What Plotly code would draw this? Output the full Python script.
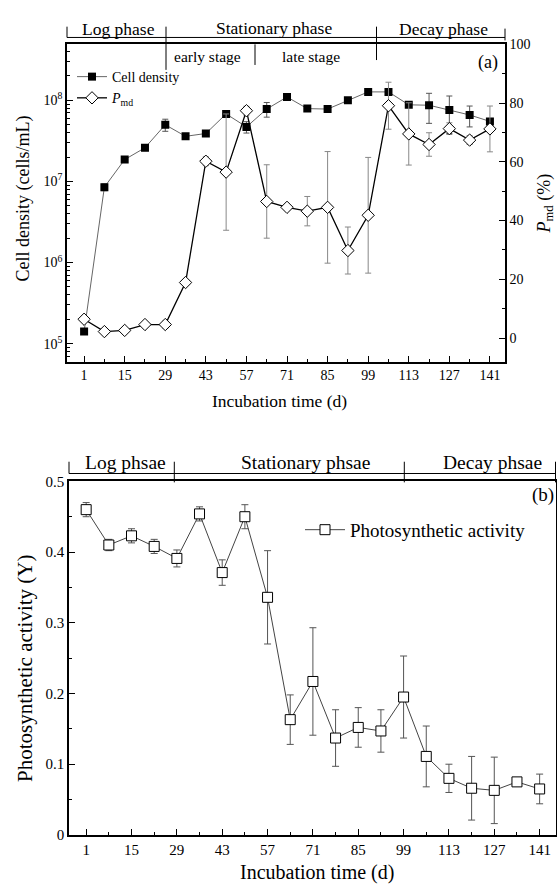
import plotly.graph_objects as go

# ---------------- data ----------------
days = [1, 8, 15, 22, 29, 36, 43, 50, 57, 64, 71, 78, 85, 92, 99, 106, 113, 120, 127, 134, 141]

cell_density = [1.41e5, 8.5e6, 1.86e7, 2.6e7, 5.0e7, 3.6e7, 3.9e7, 6.8e7, 4.7e7, 7.8e7, 1.1e8,
                7.9e7, 7.8e7, 1.0e8, 1.27e8, 1.27e8, 8.8e7, 8.7e7, 7.6e7, 6.6e7, 5.5e7]
cell_err = [0.1e5, 0.8e6, 1.5e6, 2.0e6, 0.85e7, 3.0e6, 2.0e6, 0.0, 0.75e7, 1.6e7, 4.0e6,
            3.0e6, 3.0e6, 3.0e6, 4.0e6, 4.0e6, 4.0e6, 3.5e7, 3.7e7, 1.9e7, 4.0e6]

pmd = [6.4, 2.2, 2.6, 4.6, 4.6, 18.9, 60.2, 56.5, 77.4, 46.5, 44.5, 43.2, 44.5, 29.8, 41.8,
       79.1, 69.5, 65.9, 71.3, 67.4, 71.2]
pmd_err = [1.0, 0.5, 0.5, 0.8, 1.2, 0.5, 1.5, 19.8, 1.5, 12.5, 1.0, 5.0, 19.0, 8.0, 19.7,
           8.0, 10.6, 4.0, 2.0, 1.5, 7.8]

photo = [0.460, 0.410, 0.423, 0.408, 0.391, 0.454, 0.371, 0.450, 0.336, 0.163, 0.217, 0.137,
         0.152, 0.147, 0.195, 0.111, 0.080, 0.066, 0.063, 0.075, 0.065]
photo_err = [0.010, 0.008, 0.010, 0.010, 0.012, 0.010, 0.018, 0.017, 0.066, 0.035, 0.076, 0.040,
             0.028, 0.030, 0.058, 0.043, 0.020, 0.045, 0.047, 0.004, 0.021]

x_tickvals = [1, 15, 29, 43, 57, 71, 85, 99, 113, 127, 141]
log_tickvals = [1e5, 1e6, 1e7, 1e8]
log_ticktext = ["10<sup>5</sup>", "10<sup>6</sup>", "10<sup>7</sup>", "10<sup>8</sup>"]

phases_a = ["Log phase", "Stationary phase", "Decay phase"]
stages_a = ["early stage", "late stage"]
phases_b = ["Log phsae", "Stationary phsae", "Decay phsae"]

# ---------------- layout helpers ----------------
W, H = 557, 893
FONT = "Liberation Serif"


def px(x):
    return x / W


def py(y):
    return 1 - y / H


fig = go.Figure()

fig.add_trace(go.Scatter(
    x=days, y=cell_density, name="Cell density", mode="lines+markers",
    xaxis="x", yaxis="y", legend="legend",
    line=dict(color="#666666", width=1),
    marker=dict(symbol="square", size=8, color="black", line=dict(color="black", width=0)),
    error_y=dict(type="data", array=cell_err, visible=True, color="#555555", thickness=1, width=3),
))
fig.add_trace(go.Scatter(
    x=days, y=pmd, name="<i>P</i><sub>md</sub>", mode="lines+markers",
    xaxis="x", yaxis="y2", legend="legend",
    line=dict(color="black", width=1.3),
    marker=dict(symbol="diamond", size=9.5, color="white", line=dict(color="black", width=1)),
    error_y=dict(type="data", array=pmd_err, visible=True, color="#888888", thickness=1, width=3),
))
fig.add_trace(go.Scatter(
    x=days, y=photo, name="Photosynthetic activity", mode="lines+markers",
    xaxis="x2", yaxis="y3", legend="legend2",
    line=dict(color="#444444", width=1),
    marker=dict(symbol="square", size=10, color="white", line=dict(color="black", width=1)),
    error_y=dict(type="data", array=photo_err, visible=True, color="#555555", thickness=1, width=3.5),
))


def axis_style(size):
    return dict(showgrid=False, zeroline=False, showline=True, linecolor="black", linewidth=1.6,
                ticks="inside", ticklen=6, tickwidth=1.3, tickcolor="black",
                tickfont=dict(family=FONT, size=size, color="black"))


def minor(**kw):
    return dict(ticks="inside", ticklen=3, tickwidth=1.2, tickcolor="black", **kw)


log_minor = [m * 10 ** e for e in range(4, 9) for m in range(2, 10)]

fig.update_layout(
    width=W, height=H,
    margin=dict(l=0, r=0, t=0, b=0),
    paper_bgcolor="white", plot_bgcolor="white",
    font=dict(family=FONT, color="black"),
    showlegend=True,
    xaxis=dict(domain=[px(67), px(505)], range=[-4.9, 146.2], anchor="y", mirror=True,
               tickmode="array", tickvals=x_tickvals, minor=minor(dtick=7, tick0=1),
               **axis_style(14)),
    yaxis=dict(domain=[py(360), py(37)], type="log", range=[4.78, 8.69], anchor="x",
               tickmode="array", tickvals=log_tickvals, ticktext=log_ticktext,
               minor=minor(tickmode="array", tickvals=log_minor),
               **axis_style(14)),
    yaxis2=dict(overlaying="y", side="right", range=[-8, 100], anchor="x",
                tickmode="linear", tick0=0, dtick=20, minor=minor(dtick=10, tick0=0),
                **axis_style(14)),
    xaxis2=dict(domain=[px(69), px(555.5)], range=[-4.3, 145.9], anchor="y3", mirror=True,
                tickmode="array", tickvals=x_tickvals, minor=minor(dtick=7, tick0=1),
                **axis_style(15)),
    yaxis3=dict(domain=[py(842), py(482)], range=[0, 0.5], anchor="x2", mirror=True,
                tickmode="linear", tick0=0, dtick=0.1, tickformat="~g",
                minor=minor(dtick=0.05, tick0=0),
                **axis_style(15)),
    legend=dict(x=px(72), y=py(54), xanchor="left", yanchor="top", bgcolor="rgba(0,0,0,0)",
                font=dict(family=FONT, size=14, color="black"), tracegroupgap=0, itemwidth=30),
    legend2=dict(x=px(300), y=py(512), xanchor="left", yanchor="top", bgcolor="rgba(0,0,0,0)",
                 font=dict(family=FONT, size=19, color="black"), itemwidth=40),
)

shapes = []


def hline(x0, x1, y, w=1):
    shapes.append(dict(type="line", xref="paper", yref="paper", x0=px(x0), x1=px(x1),
                       y0=py(y), y1=py(y), line=dict(color="black", width=w)))


def vline(x, y0, y1, w=1):
    shapes.append(dict(type="line", xref="paper", yref="paper", x0=px(x), x1=px(x),
                       y0=py(y0), y1=py(y1), line=dict(color="black", width=w)))


# header panel (a)
hline(67, 505, 30)
vline(67, 19, 30)
vline(166, 19, 63)
vline(255, 37, 58)
vline(376.5, 19, 53)
vline(505, 21, 33)
# header panel (b)
hline(69, 556, 474)
vline(69, 462, 474)
vline(174.3, 462, 483)
vline(404.3, 462, 483)
vline(555.5, 462, 483)

fig.update_layout(shapes=shapes)

ann = []


def text(x, y, s, size=16, angle=0):
    ann.append(dict(x=px(x), y=py(y), xref="paper", yref="paper", text=s, showarrow=False,
                    xanchor="center", yanchor="middle", textangle=angle,
                    font=dict(family=FONT, size=size, color="black")))


text(118, 21, phases_a[0], 17.5)
text(274, 20, phases_a[1], 17.5)
text(443, 21, phases_a[2], 17.5)
text(207, 49, stages_a[0], 15.5)
text(311, 49, stages_a[1], 15.5)
text(488, 55, "(a)", 18)
text(24, 194, "Cell density (cells/mL)", 18, -90)
text(545, 199, "<i>P</i><sub>md</sub> (%)", 18, -90)
text(279, 400, "Incubation time (d)", 17.5)

text(125, 463, phases_b[0], 19.5)
text(305, 463, phases_b[1], 19.5)
text(492, 463, phases_b[2], 19.5)
text(543, 496, "(b)", 19)
text(25, 673, "Photosynthetic activity (Y)", 21, -90)
text(317, 880, "Incubation time (d)", 20)

fig.update_layout(annotations=ann)

fig.write_html("out.html")
